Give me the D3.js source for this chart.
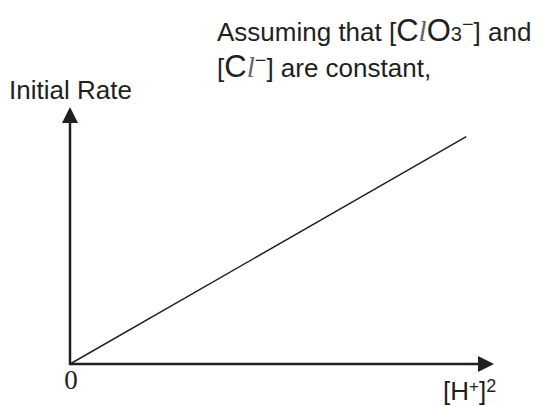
<!DOCTYPE html>
<html>
<head>
<meta charset="utf-8">
<script src="https://cdn.jsdelivr.net/npm/d3@7/dist/d3.min.js"></script>
<style>
  html, body { margin: 0; padding: 0; background: #fff; }
  svg { display: block; }
</style>
</head>
<body>
<svg id="chart" width="542" height="406"></svg>
<script>
// Rate is directly proportional to [H+]^2
const concH2 = [0, 1];
const initialRate = [0, 1];
const xLabel = "[H⁺]²";
const yLabel = "Initial Rate";
const originLabel = "0";

const SANS = "'Liberation Sans', Arial, sans-serif";
const SERIF = "'Liberation Serif', 'Times New Roman', serif";

const svg = d3.select("#chart");
const ink = "#231f20";

// Axis domains extend past the data so the arrows sit beyond the line's end
const x = d3.scaleLinear().domain([0, 1.07]).range([70, 494]);
const y = d3.scaleLinear().domain([0, 1.13]).range([364, 107]);

const arrowLen = 16, arrowHalf = 8;

// x axis with arrowhead
svg.append("line")
  .attr("x1", x(0)).attr("y1", y(0))
  .attr("x2", x(1.07) - arrowLen + 1).attr("y2", y(0))
  .attr("stroke", ink).attr("stroke-width", 2.5);
svg.append("path")
  .attr("d", `M${x(1.07)},${y(0)} L${x(1.07) - arrowLen},${y(0) - arrowHalf} L${x(1.07) - arrowLen},${y(0) + arrowHalf} Z`)
  .attr("fill", ink);

// y axis with arrowhead
svg.append("line")
  .attr("x1", x(0)).attr("y1", y(0) + 1.2)
  .attr("x2", x(0)).attr("y2", y(1.13) + arrowLen - 1)
  .attr("stroke", ink).attr("stroke-width", 2.5);
svg.append("path")
  .attr("d", `M${x(0)},${y(1.13)} L${x(0) - arrowHalf},${y(1.13) + arrowLen} L${x(0) + arrowHalf},${y(1.13) + arrowLen} Z`)
  .attr("fill", ink);

// the proportional line
const pts = concH2.map((v, i) => [v, initialRate[i]]);
svg.append("path")
  .datum(pts)
  .attr("d", d3.line().x(d => x(d[0])).y(d => y(d[1])))
  .attr("fill", "none")
  .attr("stroke", ink)
  .attr("stroke-width", 1.5);

// axis labels
svg.append("text")
  .style("font-family", SANS)
  .attr("x", 9).attr("y", 99)
  .attr("font-size", 26).attr("fill", ink)
  .text(yLabel);

svg.append("text")
  .style("font-family", SERIF)
  .attr("x", x(0) + 1).attr("y", 389)
  .attr("text-anchor", "middle")
  .attr("font-size", 27).attr("fill", ink)
  .text(originLabel);

const xl = svg.append("text")
  .style("font-family", SANS)
  .attr("x", 443).attr("y", 400)
  .attr("font-size", 26).attr("fill", ink);
xl.append("tspan").text("[H");
xl.append("tspan").attr("font-size", 17).attr("dy", -8).text("+");
xl.append("tspan").attr("dy", 8).text("]");
xl.append("tspan").attr("font-size", 18).attr("dy", -8).text("2");

// condition note
const note1 = svg.append("text").style("font-family", SANS)
  .attr("x", 217).attr("y", 41).attr("font-size", 26).attr("fill", ink);
note1.append("tspan").text("Assuming that [");
note1.append("tspan").attr("font-size", 31).text("C");
note1.append("tspan").style("font-family", SERIF).attr("font-size", 29).attr("font-style", "italic")
  .attr("fill", "#666").text("l");
note1.append("tspan").attr("font-size", 31).text("O");
note1.append("tspan").attr("font-size", 20).text("3");
note1.append("tspan").attr("font-size", 20).attr("dy", -10).text("−");
note1.append("tspan").attr("dy", 10).text("] and");

const note2 = svg.append("text").style("font-family", SANS)
  .attr("x", 217).attr("y", 77).attr("font-size", 26).attr("fill", ink);
note2.append("tspan").text("[");
note2.append("tspan").attr("font-size", 31).text("C");
note2.append("tspan").style("font-family", SERIF).attr("font-size", 29).attr("font-style", "italic")
  .attr("fill", "#666").text("l");
note2.append("tspan").attr("font-size", 20).attr("dy", -10).text("−");
note2.append("tspan").attr("dy", 10).text("] are constant,");
</script>
</body>
</html>
